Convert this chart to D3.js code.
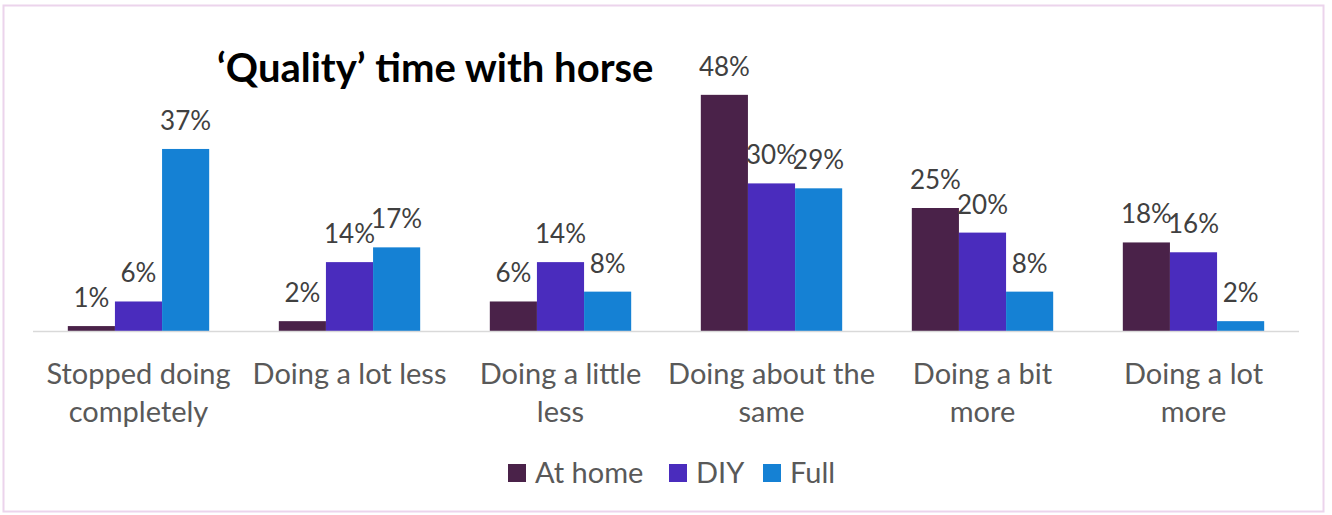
<!DOCTYPE html>
<html>
<head>
<meta charset="utf-8">
<script src="https://cdn.jsdelivr.net/npm/d3@7"></script>
<style>
  body { margin: 0; background: #fff; }
  svg { display: block; font-family: Lato, "Open Sans", sans-serif; }
  .val { fill: #404040; font-size: 26px; }
  .cat { fill: #595959; font-size: 29px; }
  .legend text { fill: #595959; font-size: 29px; }
  .title { fill: #000; font-size: 40px; font-weight: bold; }
</style>
</head>
<body>
<div id="chart"></div>
<script>
var categories = [["Stopped doing", "completely"], ["Doing a lot less"], ["Doing a little", "less"],
                  ["Doing about the", "same"], ["Doing a bit", "more"], ["Doing a lot", "more"]];
var series = ["At home", "DIY", "Full"];
var atHome = [0.01, 0.02, 0.06, 0.48, 0.25, 0.18];
var diy = [0.06, 0.14, 0.14, 0.30, 0.20, 0.16];
var full = [0.37, 0.17, 0.08, 0.29, 0.08, 0.02];
var colors = ["#4a2249", "#4a2cbd", "#1581d4"];

var width = 1332, height = 515;
var svg = d3.select("#chart").append("svg")
    .attr("width", width)
    .attr("height", height);

// outer frame
svg.append("rect")
  .attr("x", 3.5).attr("y", 5.5)
  .attr("width", 1320).attr("height", 506)
  .attr("fill", "#fff")
  .attr("stroke", "#ecd4ec")
  .attr("stroke-width", 2);

var keys = categories.map(function(c, i) { return i; });
var x0 = d3.scaleBand().domain(keys).range([33, 1299]).paddingInner(0.33).paddingOuter(0.165);
var x1 = d3.scaleBand().domain(series).range([0, x0.bandwidth()]);
var y = d3.scaleLinear().domain([0, 0.5]).range([331, 85]);
var color = d3.scaleOrdinal().domain(series).range(colors);
var fmt = d3.format(".0%");

var values = [atHome, diy, full];
var data = [];
keys.forEach(function(k) {
  series.forEach(function(s, j) {
    data.push({cat: k, series: s, value: values[j][k]});
  });
});

svg.append("text")
  .attr("class", "title")
  .attr("x", 217).attr("y", 82)
  .text("\u2018Quality\u2019 time with horse");

svg.append("g").selectAll("rect")
  .data(data)
  .enter().append("rect")
  .attr("x", function(d) { return x0(d.cat) + x1(d.series); })
  .attr("y", function(d) { return y(d.value); })
  .attr("width", x1.bandwidth())
  .attr("height", function(d) { return y(0) - y(d.value); })
  .attr("fill", function(d) { return color(d.series); });

svg.append("line")
  .attr("x1", 33).attr("x2", 1299)
  .attr("y1", 331.5).attr("y2", 331.5)
  .attr("stroke", "#d9d9d9")
  .attr("stroke-width", 1.5);

svg.append("g").selectAll("text")
  .data(data)
  .enter().append("text")
  .attr("class", "val")
  .attr("text-anchor", "middle")
  .attr("x", function(d) { return x0(d.cat) + x1(d.series) + x1.bandwidth() / 2; })
  .attr("y", function(d) { return y(d.value) - 19; })
  .text(function(d) { return fmt(d.value); });

var cats = svg.append("g").selectAll("text")
  .data(keys)
  .enter().append("text")
  .attr("class", "cat")
  .attr("text-anchor", "middle")
  .attr("x", function(k) { return x0(k) + x0.bandwidth() / 2; })
  .attr("y", 384);
cats.selectAll("tspan")
  .data(function(k) { return categories[k]; })
  .enter().append("tspan")
  .attr("x", function() { var k = d3.select(this.parentNode).datum(); return x0(k) + x0.bandwidth() / 2; })
  .attr("dy", function(d, i) { return i === 0 ? 0 : 38; })
  .text(function(d) { return d; });

var legendX = [508, 669, 763];
var legend = svg.append("g").attr("class", "legend")
  .selectAll("g")
  .data(series)
  .enter().append("g")
  .attr("transform", function(d, i) { return "translate(" + legendX[i] + ",464)"; });
legend.append("rect")
  .attr("width", 18).attr("height", 18)
  .attr("fill", function(d) { return color(d); });
legend.append("text")
  .attr("x", 27).attr("y", 19)
  .text(function(d) { return d; });
</script>
</body>
</html>
